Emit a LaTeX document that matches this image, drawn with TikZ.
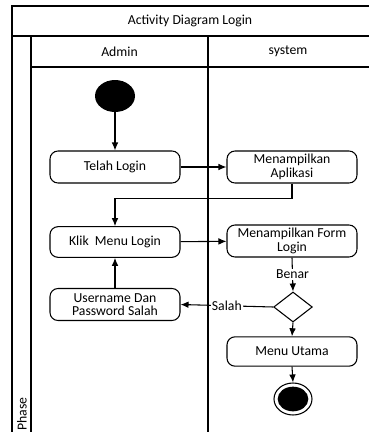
\documentclass[tikz,border=0pt]{standalone}
\usepackage{fontspec}
\setmainfont{Carlito}
\usetikzlibrary{shapes.geometric,arrows.meta}
\tikzset{
  act/.style={draw,rounded corners=6pt,minimum width=97.5pt,minimum height=24pt,align=center,inner sep=1pt,line width=0.8pt},
  arr/.style={-{Latex[length=6pt,width=5pt]},line width=0.8pt},
  ln/.style={line width=0.8pt},
  frm/.style={line width=0.9pt},
  lbl/.style={fill=white,inner sep=1pt},
  txt/.style={inner sep=0pt}
}
\begin{document}
\begin{tikzpicture}[x=0.75pt,y=-0.75pt,font=\fontsize{10.3pt}{10.2pt}\selectfont]
\useasboundingbox (0,0) rectangle (369,432);
% frame
\draw[frm] (12,432) -- (12,6) -- (369,6);
\draw[frm] (12,36) -- (369,36);
\draw[frm] (31,36) -- (31,432);
\draw[frm] (31,67) -- (369,67);
\draw[frm] (208,36) -- (208,432);
\node[txt] (title) at (190,21) {Activity Diagram Login};
\node[txt] (admin) at (119.5,51.5) {Admin};
\node[txt] (system) at (288,51.5) {system};
\node[txt,rotate=90] (phase) at (22,414) {Phase};
% nodes
\node[ellipse,fill=black,minimum width=30pt,minimum height=24pt,inner sep=0pt] (start) at (115,96) {};
\node[act] (telah) at (115,167) {Telah Login};
\node[act] (apl) at (292,167) {Menampilkan\\Aplikasi};
\node[act,minimum height=23pt] (klik) at (115,242) {Klik\ \ Menu Login};
\node[act] (form) at (292,241) {Menampilkan Form\\Login};
\node[diamond,draw,line width=0.8pt,minimum width=29pt,minimum height=22.5pt,inner sep=0pt] (dec) at (293,307) {};
\node[act] (user) at (115,304.5) {Username Dan\\Password Salah};
\node[act,minimum height=22pt] (menu) at (292,351.5) {Menu Utama};
\node[ellipse,draw,line width=0.8pt,minimum width=28.5pt,minimum height=24pt,inner sep=0pt] (end) at (293,399) {};
\node[ellipse,fill=black,minimum width=23pt,minimum height=18.5pt,inner sep=0pt] (endin) at (293,399) {};
% connectors
\draw[arr] (start) -- (telah);
\draw[arr] (telah) -- (apl);
\draw[arr] (apl.south) -- ++(0,15) -| (klik.north);
\draw[arr] (klik) -- (form);
\draw[arr] (form.south) -- node[lbl] (benar) {Benar} (dec.north);
\draw[arr] (dec.west) -- node[lbl] (salah) {Salah} (user.east);
\draw[arr] (user) -- (klik);
\draw[arr] (dec.south) -- (menu.north);
\draw[arr] (menu.south) -- (end.north);
\end{tikzpicture}
\end{document}
